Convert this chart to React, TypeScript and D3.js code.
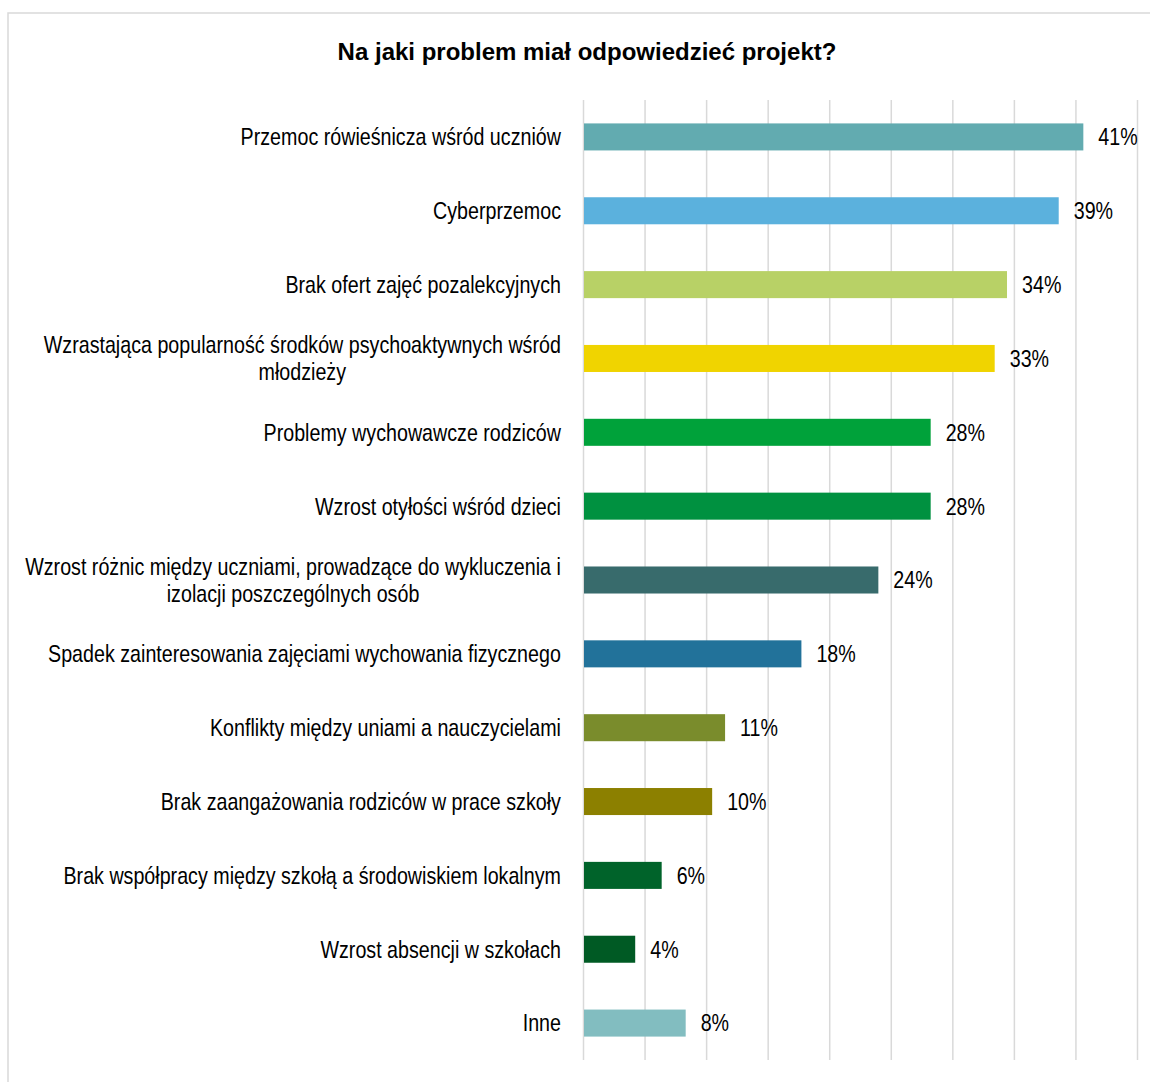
import React, { useEffect, useRef } from "react";
import * as d3 from "d3";

const title = "Na jaki problem miał odpowiedzieć projekt?";

const categories: string[][] = [
  ["Przemoc rówieśnicza wśród uczniów"],
  ["Cyberprzemoc"],
  ["Brak ofert zajęć pozalekcyjnych"],
  ["Wzrastająca popularność środków psychoaktywnych wśród", "młodzieży"],
  ["Problemy wychowawcze rodziców"],
  ["Wzrost otyłości wśród dzieci"],
  ["Wzrost różnic między uczniami, prowadzące do wykluczenia i", "izolacji poszczególnych osób"],
  ["Spadek zainteresowania zajęciami wychowania fizycznego"],
  ["Konflikty między uniami a nauczycielami"],
  ["Brak zaangażowania rodziców w prace szkoły"],
  ["Brak współpracy między szkołą a środowiskiem lokalnym"],
  ["Wzrost absencji w szkołach"],
  ["Inne"],
];

const values: number[] = [40.6, 38.6, 34.4, 33.4, 28.2, 28.2, 23.95, 17.7, 11.5, 10.45, 6.35, 4.2, 8.3];
const valueLabels: string[] = ["41%", "39%", "34%", "33%", "28%", "28%", "24%", "18%", "11%", "10%", "6%", "4%", "8%"];

const colors: string[] = [
  "#62abb0", "#5bb1dd", "#b8d166", "#f0d400", "#00a23a", "#009140",
  "#386b6c", "#22729a", "#7a8c2c", "#8c8000", "#00632a", "#005a24", "#82bdc0",
];

const gridTicks: number[] = [0, 5, 10, 15, 20, 25, 30, 35, 40, 45];

const FONT = "'Liberation Sans', Arial, sans-serif";
const NARROW = 0.82;

export default function App() {
  const ref = useRef<SVGSVGElement | null>(null);

  useEffect(() => {
    const svg = d3.select(ref.current);
    svg.selectAll("*").remove();

    // frame
    svg.append("rect")
      .attr("x", 8).attr("y", 13).attr("width", 1200).attr("height", 1200)
      .attr("fill", "#fff").attr("stroke", "#d9d9d9").attr("stroke-width", 1.5);

    svg.append("text")
      .attr("x", 587).attr("y", 60)
      .attr("text-anchor", "middle")
      .attr("font-family", FONT)
      .attr("font-weight", "bold")
      .attr("font-size", 24)
      .attr("fill", "#000")
      .text(title);

    const x = d3.scaleLinear().domain([0, 45]).range([583.5, 1137.5]);
    const idx = categories.map((_, i) => String(i));
    const y = d3.scaleBand().domain(idx).range([100, 1060]).paddingInner(0.634).paddingOuter(0.317);

    svg.append("g").selectAll("line").data(gridTicks).join("line")
      .attr("x1", (d) => x(d)).attr("x2", (d) => x(d))
      .attr("y1", 100).attr("y2", 1060)
      .attr("stroke", "#d9d9d9").attr("stroke-width", 1.5);

    svg.append("g").selectAll("rect").data(values).join("rect")
      .attr("x", x(0) + 0.5)
      .attr("y", (_, i) => y(String(i))!)
      .attr("width", (d) => x(d) - x(0) - 0.5)
      .attr("height", y.bandwidth())
      .attr("fill", (_, i) => colors[i]);

    svg.append("g").selectAll("g").data(values).join("g")
      .attr("transform", (d, i) => `translate(${x(d) + 15},${y(String(i))! + y.bandwidth() / 2}) scale(${NARROW},1)`)
      .append("text")
      .attr("dy", "0.35em")
      .attr("font-family", FONT)
      .attr("font-size", 24)
      .attr("fill", "#000")
      .text((_, i) => valueLabels[i]);

    const labelRight = 561;
    const lineH = 27;
    categories.forEach((lines, i) => {
      const cy = y(String(i))! + y.bandwidth() / 2;
      const g = svg.append("g");
      const texts = lines.map((l, j) =>
        g.append("text")
          .attr("font-family", FONT)
          .attr("font-size", 24)
          .attr("fill", "#000")
          .attr("text-anchor", "middle")
          .attr("dy", "0.35em")
          .attr("y", (j - (lines.length - 1) / 2) * lineH)
          .text(l)
      );
      const maxW = (d3.max(texts, (t) => (t.node() as SVGTextElement).getComputedTextLength()) || 0) * NARROW;
      g.attr("transform", `translate(${labelRight - maxW / 2},${cy}) scale(${NARROW},1)`);
    });
  }, []);

  return (
    <svg
      ref={ref}
      width={1150}
      height={1082}
      style={{ position: "absolute", left: 0, top: 0, background: "#fff" }}
    />
  );
}
